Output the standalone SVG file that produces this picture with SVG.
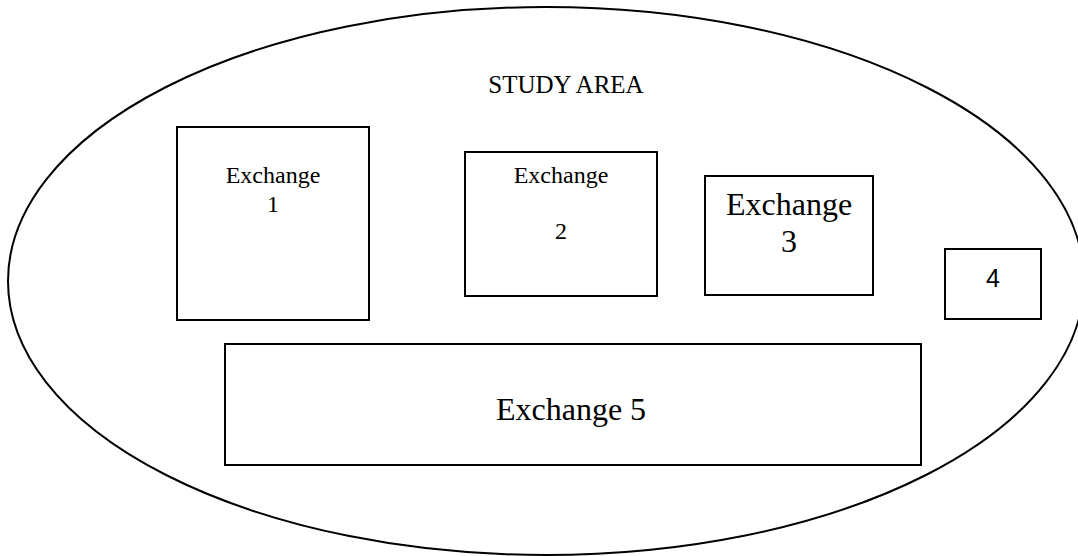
<svg xmlns="http://www.w3.org/2000/svg" width="1078" height="556" viewBox="0 0 1078 556">
<style>
.box{fill:#fff;stroke:#000;stroke-width:2}
.t{font-family:'Liberation Serif','Times New Roman',Times,serif;fill:#000;text-anchor:middle}
.s{font-size:24px}
.l{font-size:32px}
.sans{font-family:'Liberation Sans',Arial,sans-serif;fill:#000;text-anchor:middle;font-size:25px}
</style>
<rect width="1078" height="556" fill="#fff"/>
<g id="study-area">
<ellipse cx="546" cy="281" rx="538" ry="274" fill="none" stroke="#000" stroke-width="2"/>
<text class="t" x="566" y="93" font-size="25" font-family="Liberation Serif, serif">STUDY AREA</text>
</g>
<g id="exchange1" font-family="Liberation Serif, serif">
<rect class="box" x="177" y="127" width="192" height="193"/>
<text class="t s" x="273" y="183">Exchange</text>
<text class="t s" x="273" y="212">1</text>
</g>
<g id="exchange2" font-family="Liberation Serif, serif">
<rect class="box" x="465" y="152" width="192" height="144"/>
<text class="t s" x="561" y="183">Exchange</text>
<text class="t s" x="561" y="239">2</text>
</g>
<g id="exchange3" font-family="Liberation Serif, serif">
<rect class="box" x="705" y="176" width="168" height="119"/>
<text class="t l" x="789" y="215">Exchange</text>
<text class="t l" x="789" y="252">3</text>
</g>
<g id="exchange4">
<rect class="box" x="945" y="249" width="96" height="70"/>
<text class="sans" x="993" y="287">4</text>
</g>
<g id="exchange5" font-family="Liberation Serif, serif">
<rect class="box" x="225" y="344" width="696" height="121"/>
<text class="t l" x="571" y="420">Exchange 5</text>
</g>
<g id="connectors"/>
</svg>
